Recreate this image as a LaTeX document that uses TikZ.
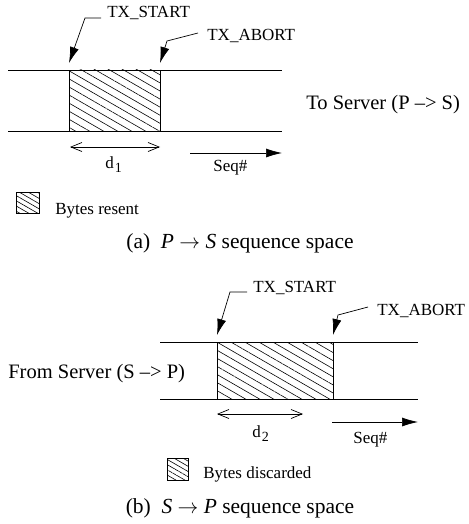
\documentclass[tikz,border=0pt]{standalone}
\usepackage{fontspec}
\setmainfont{Liberation Serif}
\usetikzlibrary{calc}
\usetikzlibrary{arrows.meta}
\usetikzlibrary{patterns.meta}

\newcommand\subnum[1]{\kern1pt\raisebox{-4pt}{\fontsize{14}{14}\selectfont #1}}

\begin{document}
\begin{tikzpicture}[x=1pt,y=-1pt,line width=0.7pt,
        hatch/.style={pattern={Lines[angle=-30,distance=7pt,line width=0.6pt]}},
        keyhatch/.style={pattern={Lines[angle=-30,distance=4.5pt,line width=0.6pt]}},
        lbl/.style={font=\fontsize{17}{20}\selectfont,inner sep=0pt},
        big/.style={font=\fontsize{20.5}{24}\selectfont,inner sep=0pt},
        captxt/.style={font=\fontsize{21.5}{25}\selectfont,inner sep=0pt},
        ptr/.style={-{Latex[length=16pt,width=9pt]}},
        span/.style={{Straight Barb[length=11pt,width=9pt]}-{Straight Barb[length=11pt,width=9pt]}}]
        \useasboundingbox (0,0) rectangle (468,524);
        % (a) P -> S
        \coordinate (a1l) at (8,70);
        \coordinate (a1r) at (282,70);
        \coordinate (a2l) at (8,131);
        \coordinate (a2r) at (282,131);
        \draw (a1l) -- (a1r);
        \draw (a2l) -- (a2r);
        \draw[hatch] (69,70) coordinate (aS) rectangle (160,131) coordinate (aE);
        \node[lbl,anchor=base west] (aTxs) at (107,18) {TX\_START};
        \coordinate (aTxsK) at (85,18);
        \draw[ptr] ([xshift=-6pt]aTxs.base west) -- (aTxsK) -- ($(aS)+(0,-7)$);
        \node[lbl,anchor=base west] (aTxa) at (207,41) {TX\_ABORT};
        \coordinate (aTxaK) at (167,41);
        \draw[ptr] ([xshift=-9pt,yshift=8pt]aTxa.base west) -- (aTxaK) -- ($(aE |- aS)+(0,-7)$);
        \node[big,anchor=base west] (aDir) at (306,110) {To Server (P --> S)};
        \draw[span] ($(aS |- aE)+(1,16)$) -- ($(aE)+(0,16)$);
        \node[lbl,anchor=base west] (aD) at (105,168) {d\subnum{1}};
        \coordinate (aSq1) at (190,153);
        \coordinate (aSq2) at (282,153);
        \draw[ptr] (aSq1) -- (aSq2);
        \node[lbl,anchor=base west] (aSeq) at (213,171) {Seq\#};
        \draw[keyhatch] (16,192) coordinate (aK) rectangle (39,213);
        \node[lbl,anchor=base west] (aKey) at (55,214) {Bytes resent};
        \node[captxt,anchor=base] (aCap) at (240,248) {(a)\enspace\textit{P} $\rightarrow$ \textit{S} sequence space};
        % (b) S -> P
        \coordinate (b1l) at (160,342);
        \coordinate (b1r) at (418,342);
        \coordinate (b2l) at (160,399);
        \coordinate (b2r) at (418,399);
        \draw (b1l) -- (b1r);
        \draw (b2l) -- (b2r);
        \draw[hatch] (217,342) coordinate (bS) rectangle (333,399) coordinate (bE);
        \node[lbl,anchor=base west] (bTxs) at (253,292) {TX\_START};
        \coordinate (bTxsK) at (230,292);
        \draw[ptr] ([xshift=-6pt]bTxs.base west) -- (bTxsK) -- ($(bS)+(0,-7)$);
        \node[lbl,anchor=base west] (bTxa) at (377,315) {TX\_ABORT};
        \coordinate (bTxaK) at (338,315);
        \draw[ptr] ([xshift=-9pt,yshift=8pt]bTxa.base west) -- (bTxaK) -- ($(bE |- bS)+(0,-7)$);
        \node[big,anchor=base west] (bDir) at (8,378) {From Server (S --> P)};
        \draw[span] ($(bS |- bE)+(0,15)$) -- ($(bS |- bE)+(86,15)$);
        \node[lbl,anchor=base west] (bD) at (252,437) {d\subnum{2}};
        \coordinate (bSq1) at (332,422);
        \coordinate (bSq2) at (418,422);
        \draw[ptr] (bSq1) -- (bSq2);
        \node[lbl,anchor=base west] (bSeq) at (353,443) {Seq\#};
        \draw[keyhatch] (167,458) coordinate (bK) rectangle (188,480);
        \node[lbl,anchor=base west] (bKey) at (203,478) {Bytes discarded};
        \node[captxt,anchor=base] (bCap) at (240,513) {(b)\enspace\textit{S} $\rightarrow$ \textit{P} sequence space};
\end{tikzpicture}
\end{document}
